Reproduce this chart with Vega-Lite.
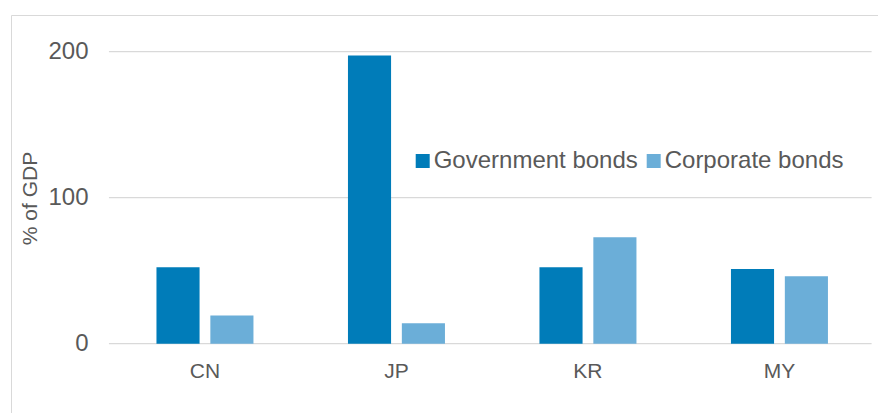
{
  "$schema": "https://vega.github.io/schema/vega-lite/v6.json",
  "width": 867,
  "height": 398,
  "autosize": {"type": "none"},
  "padding": {"left": 11, "top": 15, "right": 0, "bottom": 0},
  "background": "white",
  "config": {
    "font": "Liberation Sans",
    "view": {"stroke": "#d9d9d9", "strokeWidth": 1},
    "axisY": {
      "domain": false, "ticks": false, "grid": false,
      "offset": -98, "labelPadding": 21, "labelFontSize": 24, "labelColor": "#595959",
      "titleFontSize": 21, "titleFontWeight": "normal", "titleColor": "#595959",
      "titleX": -79, "titleY": 183, "titleBaseline": "middle"
    },
    "axisX": {
      "domain": false, "ticks": false, "grid": false,
      "offset": -69, "labelPadding": 16, "labelFontSize": 21, "labelColor": "#595959", "labelAngle": 0
    }
  },
  "layer": [
    {
      "data": {"values": [{"v": 0}, {"v": 100}, {"v": 200}]},
      "mark": {"type": "rule", "color": "#d9d9d9", "strokeWidth": 1.2},
      "encoding": {
        "y": {"field": "v", "type": "quantitative", "title": "% of GDP", "axis": {"values": [0, 100, 200]}},
        "x": {"datum": "CN", "bandPosition": -0.49},
        "x2": {"datum": "MY", "bandPosition": 1.45}
      }
    },
    {
      "data": {
        "values": [
          {"country": "CN", "series": "Government bonds", "value": 52.3},
          {"country": "CN", "series": "Corporate bonds", "value": 19.2},
          {"country": "JP", "series": "Government bonds", "value": 197.3},
          {"country": "JP", "series": "Corporate bonds", "value": 14.0},
          {"country": "KR", "series": "Government bonds", "value": 52.3},
          {"country": "KR", "series": "Corporate bonds", "value": 72.9},
          {"country": "MY", "series": "Government bonds", "value": 51.2},
          {"country": "MY", "series": "Corporate bonds", "value": 46.2}
        ]
      },
      "mark": {"type": "bar"},
      "encoding": {
        "x": {
          "field": "country", "type": "nominal", "title": null,
          "scale": {"domain": ["CN", "JP", "KR", "MY"], "paddingInner": 0.4935, "paddingOuter": 0.5105, "align": 0.744}
        },
        "xOffset": {
          "field": "series", "type": "nominal",
          "sort": ["Government bonds", "Corporate bonds"],
          "scale": {"domain": ["Government bonds", "Corporate bonds"], "paddingInner": 0.2, "paddingOuter": 0}
        },
        "y": {
          "field": "value", "type": "quantitative", "title": "% of GDP",
          "scale": {"domain": [-47.5, 225.1], "nice": false, "zero": false},
          "axis": {"values": [0, 100, 200]}
        },
        "y2": {"datum": 0},
        "color": {
          "field": "series", "type": "nominal",
          "scale": {"domain": ["Government bonds", "Corporate bonds"], "range": ["#007cb9", "#6baed8"]},
          "legend": {
            "orient": "none", "legendX": 399.7, "legendY": 134, "direction": "horizontal", "padding": 0,
            "title": null, "symbolType": "square", "symbolSize": 196, "symbolStrokeWidth": 0,
            "labelFontSize": 24, "labelColor": "#595959", "labelOffset": -1, "labelLimit": 400, "columnPadding": 3
          }
        }
      }
    }
  ]
}
